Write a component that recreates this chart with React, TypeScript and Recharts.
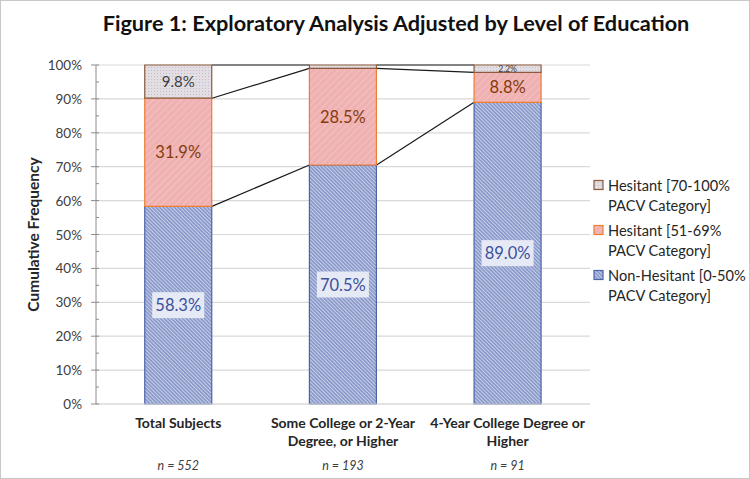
import React from 'react';
import * as R from 'recharts';

const { BarChart, Bar, XAxis, YAxis, CartesianGrid, Legend, LabelList } = R;

const categories = ['Total Subjects', 'Some College or 2-Year Degree, or Higher', '4-Year College Degree or Higher'];
const categoryLines = [['Total Subjects'], ['Some College or 2-Year', 'Degree, or Higher'], ['4-Year College Degree or', 'Higher']];
const sampleSizes = ['n = 552', 'n = 193', 'n = 91'];

const nonHesitant = [58.3, 70.5, 89.0];
const hesitantMid = [31.9, 28.5, 8.8];
const hesitantHigh = [9.8, 1.0, 2.2];

const yTicks = [0, 5, 10, 15, 20, 25, 30, 35, 40, 45, 50, 55, 60, 65, 70, 75, 80, 85, 90, 95, 100];
const majorTicks = yTicks.filter(t => t % 10 === 0);

const data = categories.map((name, i) => ({
  name,
  low: nonHesitant[i],
  mid: hesitantMid[i],
  high: hesitantHigh[i],
}));

const FONT = 'Lato, "Open Sans", sans-serif';
const GAP = 0.296; // barCategoryGap fraction

const W = 750;
const H = 479;

// stroke/fill for each series
const series = [
  { key: 'low', name: 'Non-Hesitant [0-50%', name2: 'PACV Category]', fill: 'url(#pBlue)', stroke: '#4a64aa' },
  { key: 'mid', name: 'Hesitant [51-69%', name2: 'PACV Category]', fill: 'url(#pPink)', stroke: '#ed7d31' },
  { key: 'high', name: 'Hesitant [70-100%', name2: 'PACV Category]', fill: 'url(#pGrey)', stroke: '#8c5a3c' },
];

const useArea: () => any = (R as any).usePlotArea ?? (() => null);

// lines joining the segment tops of neighbouring bars
function SeriesLines() {
  const area = useArea();
  if (!area) return null;
  const band = area.width / categories.length;
  const bw = band * (1 - 2 * GAP);
  const yOf = (v: number) => area.y + area.height * (1 - v / 100);
  const cum = categories.map((_, i) => [nonHesitant[i], nonHesitant[i] + hesitantMid[i], 100]);
  const out: React.ReactNode[] = [];
  for (let i = 0; i < categories.length - 1; i++) {
    const x1 = area.x + band * i + band * GAP + bw;
    const x2 = area.x + band * (i + 1) + band * GAP;
    cum[i].forEach((v, k) => {
      out.push(<line key={`${i}-${k}`} x1={x1} y1={yOf(v)} x2={x2} y2={yOf(cum[i + 1][k])} stroke="#1a1a1a" strokeWidth={1.2} />);
    });
  }
  return <g>{out}</g>;
}

const YTick = (props: any) => {
  const { x, y, payload } = props;
  const major = payload.value % 10 === 0;
  return (
    <g>
      <line x1={major ? x - 5 : x} x2={x + 3} y1={y} y2={y} stroke="#8c8c8c" strokeWidth={1} />
      {major && (
        <text x={x - 14} y={y + 5} textAnchor="end" fontSize={13.5} fill="#404040" fontFamily={FONT}>
          {`${payload.value}%`}
        </text>
      )}
    </g>
  );
};

const XTick = (props: any) => {
  const { x, y, index } = props;
  const lines = categoryLines[index] || [];
  return (
    <g>
      {lines.map((l, k) => (
        <text key={k} x={x} y={y + 24 + k * 18} textAnchor="middle" fontSize={14} fontWeight="bold" fill="#262626" fontFamily={FONT}>
          {l}
        </text>
      ))}
      <text x={x} y={y + 66} textAnchor="middle" fontSize={12.5} fontStyle="italic" fill="#404040" fontFamily={FONT}>
        {sampleSizes[index]}
      </text>
    </g>
  );
};

const makeLabel = (kind: string) => (props: any) => {
  const { x, y, width, height, value } = props;
  if (value < 1.5) return null;
  const cx = x + width / 2;
  const cy = y + height / 2;
  const txt = `${Number(value).toFixed(1)}%`;
  if (kind === 'low') {
    return (
      <g>
        <rect x={cx - 26} y={cy - 13} width={52} height={26} fill="#eceff7" fillOpacity={0.92} />
        <text x={cx} y={cy + 6} textAnchor="middle" fontSize={16.5} fill="#3b519a" fontFamily={FONT}>{txt}</text>
      </g>
    );
  }
  if (kind === 'mid') {
    return <text x={cx} y={cy + 6} textAnchor="middle" fontSize={16.5} fill="#843c0c" fontFamily={FONT}>{txt}</text>;
  }
  const small = value < 5;
  return (
    <text x={cx} y={cy + (small ? 3 : 5)} textAnchor="middle" fontSize={small ? 8.5 : 15} fill="#404040" fontFamily={FONT}>
      {txt}
    </text>
  );
};

const LegendBox = () => (
  <div style={{ fontFamily: FONT, fontSize: 14.6, color: '#262626', lineHeight: '19.5px' }}>
    {[...series].reverse().map(s => (
      <div key={s.key} style={{ display: 'flex', alignItems: 'flex-start', marginBottom: 6 }}>
        <svg width={14} height={19} style={{ flex: 'none' }}>
          <rect x={2} y={4.5} width={9} height={9} fill={s.fill} stroke={s.stroke} strokeWidth={1.2} />
        </svg>
        <div style={{ marginLeft: 2 }}>
          <div>{s.name}</div>
          <div>{s.name2}</div>
        </div>
      </div>
    ))}
  </div>
);

export default function App() {
  return (
    <div style={{ position: 'absolute', left: 0, top: 0, width: W, height: H, boxSizing: 'border-box', border: '1px solid #c8c8c8', background: '#fff' }}>
      <svg width={0} height={0} style={{ position: 'absolute' }}>
        <defs>
          <pattern id="pBlue" width={2.6} height={2.6} patternUnits="userSpaceOnUse" patternTransform="rotate(-45)">
            <rect width={2.6} height={2.6} fill="#8797c8" />
            <line x1={1.3} y1={0} x2={1.3} y2={2.6} stroke="#c9d1ea" strokeWidth={1} />
          </pattern>
          <pattern id="pPink" width={5} height={5} patternUnits="userSpaceOnUse" patternTransform="rotate(45)">
            <rect width={5} height={5} fill="#efb1b1" />
            <line x1={2.5} y1={0} x2={2.5} y2={5} stroke="#f4c1c1" strokeWidth={1} />
          </pattern>
          <pattern id="pGrey" width={3} height={3} patternUnits="userSpaceOnUse">
            <rect width={3} height={3} fill="#e2dee4" />
            <rect width={1} height={1} fill="#c3bcc7" />
          </pattern>
        </defs>
      </svg>
      <div style={{ position: 'absolute', left: 40, top: 9, width: W - 40, textAlign: 'center', fontFamily: FONT, fontWeight: 'bold', fontSize: 21.7, color: '#111' }}>
        Figure 1: Exploratory Analysis Adjusted by Level of Education
      </div>
      <div style={{ position: 'absolute', left: 0, top: 0 }}>
        <BarChart width={W - 2} height={H - 2} data={data} margin={{ top: 64, right: 159, bottom: 73, left: 40 }} barCategoryGap={`${GAP * 100}%`}>
          <CartesianGrid vertical={false} horizontalValues={majorTicks} stroke="#d9d9d9" strokeWidth={1.2} />
          <XAxis dataKey="name" height={1} tick={<XTick />} tickLine={false} tickSize={0} tickMargin={0} axisLine={{ stroke: '#d9d9d9' }} interval={0} />
          <YAxis
            domain={[0, 100]}
            ticks={yTicks}
            interval={0}
            width={55}
            tick={<YTick />}
            tickLine={false}
            tickSize={0}
            tickMargin={0}
            axisLine={{ stroke: '#8c8c8c' }}
            label={{ value: 'Cumulative Frequency', angle: -90, position: 'insideLeft', offset: -8, style: { fontFamily: FONT, fontWeight: 'bold', fontSize: 15.5, fill: '#262626', textAnchor: 'middle' } }}
          />
          <Legend layout="horizontal" verticalAlign="middle" content={<LegendBox />} wrapperStyle={{ left: 591, top: 175, width: 160 }} />
          {series.map(s => (
            <Bar key={s.key} dataKey={s.key} name={s.name} stackId="a" fill={s.fill} stroke={s.stroke} strokeWidth={1.2} isAnimationActive={false}>
              <LabelList dataKey={s.key} content={makeLabel(s.key)} />
            </Bar>
          ))}
          <SeriesLines />
        </BarChart>
      </div>
    </div>
  );
}
